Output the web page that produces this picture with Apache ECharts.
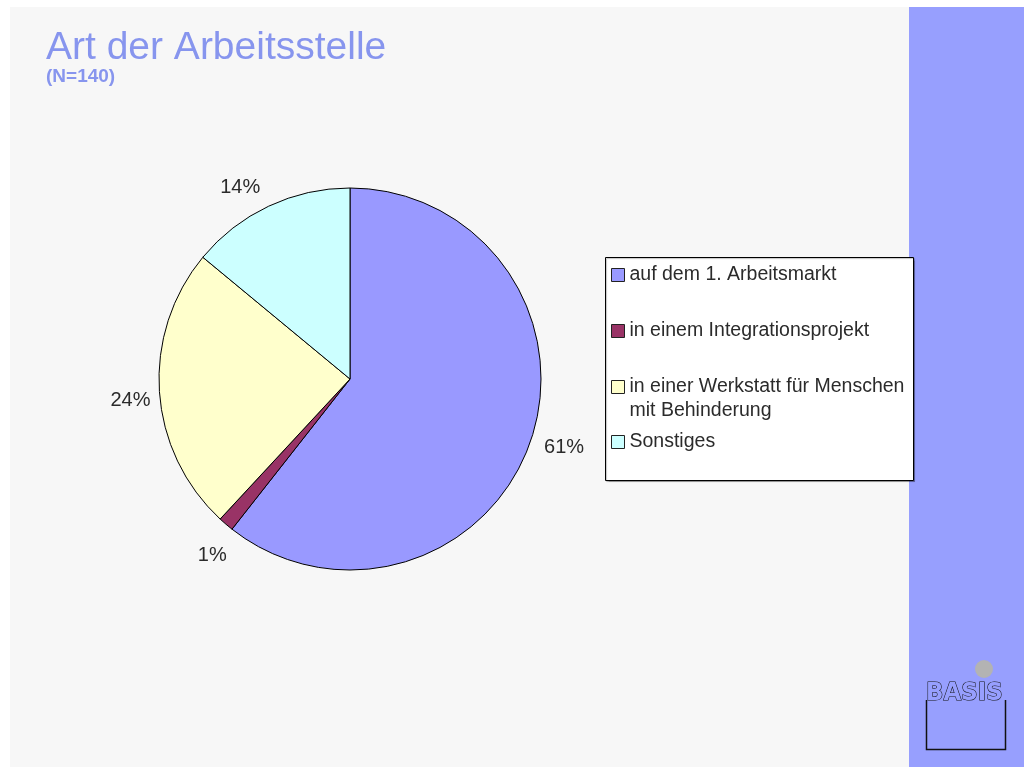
<!DOCTYPE html>
<html>
<head>
<meta charset="utf-8">
<script src="https://cdn.jsdelivr.net/npm/echarts@6/dist/echarts.min.js"></script>
<style>
html,body{margin:0;padding:0;background:#fff;}
#chart{width:1024px;height:767px;}
</style>
</head>
<body>
<div id="chart"></div>
<script>
// Data (percent shares, N=140)
var categories = ['auf dem 1. Arbeitsmarkt', 'in einem Integrationsprojekt', 'in einer Werkstatt für Menschen mit Behinderung', 'Sonstiges'];
var shares = [60.6, 1.3, 24.1, 14.0];
var colors = ['#9999ff', '#993366', '#ffffcc', '#ccffff'];
var titleText = 'Art der Arbeitsstelle';
var subtitleText = '(N=140)';

// label nudges (style only)
var labelShift = [[-5, 3], [17, 25], [10, 8], [6, -11]];

var FONT = '"Liberation Sans", Arial, Helvetica, sans-serif';
var chart = echarts.init(document.getElementById('chart'));

var pieData = categories.map(function (c, i) {
  return { name: c, value: shares[i], itemStyle: { color: colors[i] } };
});

var legendTops = [263, 319, 351, 430];
var legends = categories.map(function (c, i) {
  return {
    data: [c],
    left: 611,
    top: legendTops[i],
    padding: 0,
    orient: 'vertical',
    icon: 'rect',
    itemWidth: 13,
    itemHeight: 13,
    itemGap: 0,
    selectedMode: false,
    itemStyle: { borderColor: '#222', borderWidth: 1 },
    textStyle: { fontFamily: FONT, fontSize: 19.5, color: '#2b2b2b', lineHeight: 24 },
    formatter: function (name) {
      if (name === categories[2]) return '\nin einer Werkstatt für Menschen\nmit Behinderung';
      return name;
    }
  };
});

chart.setOption({
  animation: false,
  backgroundColor: '#ffffff',
  title: {
    text: titleText,
    subtext: subtitleText,
    left: 46,
    top: 29,
    itemGap: -1,
    padding: 0,
    textStyle: { fontFamily: FONT, fontSize: 39, fontWeight: 'normal', color: '#8795ee' },
    subtextStyle: { fontFamily: FONT, fontSize: 19, fontWeight: 'bold', color: '#8795ee' }
  },
  legend: legends,
  graphic: [
    { type: 'rect', z: -10, shape: { x: 10, y: 7, width: 899, height: 760 }, style: { fill: '#f7f7f7' }, silent: true },
    { type: 'rect', z: -10, shape: { x: 909, y: 7, width: 115, height: 760 }, style: { fill: '#979ffe' }, silent: true },
    { type: 'rect', z: 3, shape: { x: 605.5, y: 257.5, width: 308, height: 223 }, style: { fill: '#ffffff', stroke: '#000', lineWidth: 1, shadowColor: 'rgba(0,0,0,0.25)', shadowOffsetX: 1, shadowOffsetY: 1, shadowBlur: 1 }, silent: true },
    { type: 'circle', z: 5, shape: { cx: 984, cy: 669, r: 9 }, style: { fill: '#b3b3b3' }, silent: true },
    { type: 'polyline', z: 5, shape: { points: [[926.5, 700], [926.5, 749.5], [1005.5, 749.5], [1005.5, 700]] }, style: { stroke: '#111', lineWidth: 1.5, fill: null }, silent: true },
    { type: 'text', z: 6, x: 926, y: 682, scaleX: 1.06, style: { text: 'BASIS', fontFamily: '"DejaVu Sans Condensed", "DejaVu Sans", sans-serif', fontWeight: 'bold', fontSize: 24, fill: '#979ffe', stroke: '#111', lineWidth: 1, textAlign: 'left', textVerticalAlign: 'top' }, silent: true }
  ],
  series: [{
    type: 'pie',
    center: [350, 379],
    radius: 191,
    startAngle: 90,
    clockwise: true,
    avoidLabelOverlap: false,
    data: pieData,
    itemStyle: { borderColor: '#000', borderWidth: 1 },
    label: {
      show: true,
      position: 'outside',
      formatter: function (p) { return Math.round(p.percent) + '%'; },
      fontFamily: FONT,
      fontSize: 20,
      color: '#2b2b2b'
    },
    labelLine: { show: false, length: 8, length2: 6 },
    labelLayout: function (p) {
      var s = labelShift[p.dataIndex];
      return { dx: s[0], dy: s[1] };
    },
    emphasis: { disabled: true }
  }]
});
</script>
</body>
</html>
